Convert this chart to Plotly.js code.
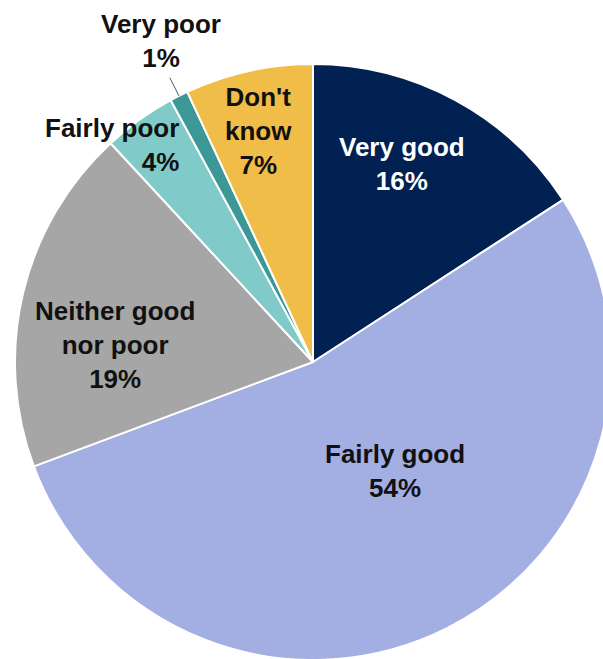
<!DOCTYPE html>
<html>
<head>
<meta charset="utf-8">
<script src="https://cdn.plot.ly/plotly-3.0.1.min.js"></script>
<style>
html,body{margin:0;padding:0;overflow:hidden;background:#fff;width:603px;height:659px;}
#chart{width:640px;height:680px;}
</style>
</head>
<body>
<div id="chart"></div>
<script>
// ---- data ----
var categories = ["Very good", "Fairly good", "Neither good nor poor", "Fairly poor", "Very poor", "Don't know"];
var labelLines = ["Very good", "Fairly good", "Neither good<br>nor poor", "Fairly poor", "Very poor", "Don't<br>know"];
var values = [16, 54, 19, 4, 1, 7];

// ---- style ----
var colors = ["#012153", "#a3aee2", "#a6a6a6", "#80cbc9", "#3c9797", "#f0bd48"];
var textColors = ["#ffffff", "#111111", "#111111", "#111111", "#111111", "#111111"];
// label placement in page pixels (text block centre / anchor), layout only
var labelPx = [[402, 164], [395, 471], [115, 345], [181, 145], [161, 41], [258, 131]];
var labelXAnchor = ["center", "center", "center", "right", "center", "center"];
var labelAlign = ["center", "center", "center", "right", "center", "center"];

var W = 640, H = 680;
var cx = 313, cy = 362, R = 298;
var FONT = "Liberation Sans, Arial, sans-serif";

var trace = {
  type: "pie",
  labels: categories,
  values: values,
  sort: false,
  direction: "clockwise",
  rotation: 0,
  marker: {colors: colors, line: {color: "#ffffff", width: 2}},
  textinfo: "none",
  hoverinfo: "none",
  domain: {x: [(cx - R) / W, (cx + R) / W], y: [1 - (cy + R) / H, 1 - (cy - R) / H]}
};

var annotations = categories.map(function (c, i) {
  return {
    xref: "paper", yref: "paper",
    x: labelPx[i][0] / W, y: 1 - labelPx[i][1] / H,
    xanchor: labelXAnchor[i], yanchor: "middle", align: labelAlign[i],
    showarrow: false,
    text: "<b>" + labelLines[i] + "<br>" + values[i] + "%</b>",
    font: {family: FONT, size: 26, color: textColors[i]}
  };
});

// leader line for "Very poor", along the slice's mid angle
var total = values.reduce(function (a, b) { return a + b; }, 0);
var before = values.slice(0, 4).reduce(function (a, b) { return a + b; }, 0);
var mid = (before + values[4] / 2) / total * 2 * Math.PI;
function pt(r) { return [(cx + r * Math.sin(mid)) / W, 1 - (cy - r * Math.cos(mid)) / H]; }
var p0 = pt(R * 1.0), p1 = pt(R * 1.068);

var layout = {
  width: W, height: H,
  margin: {l: 0, r: 0, t: 0, b: 0},
  showlegend: false,
  paper_bgcolor: "#ffffff",
  annotations: annotations,
  shapes: [{type: "line", xref: "paper", yref: "paper", x0: p0[0], y0: p0[1], x1: p1[0], y1: p1[1],
    line: {color: "#555555", width: 1}}]
};
Plotly.newPlot("chart", [trace], layout, {staticPlot: true});
</script>
</body>
</html>
